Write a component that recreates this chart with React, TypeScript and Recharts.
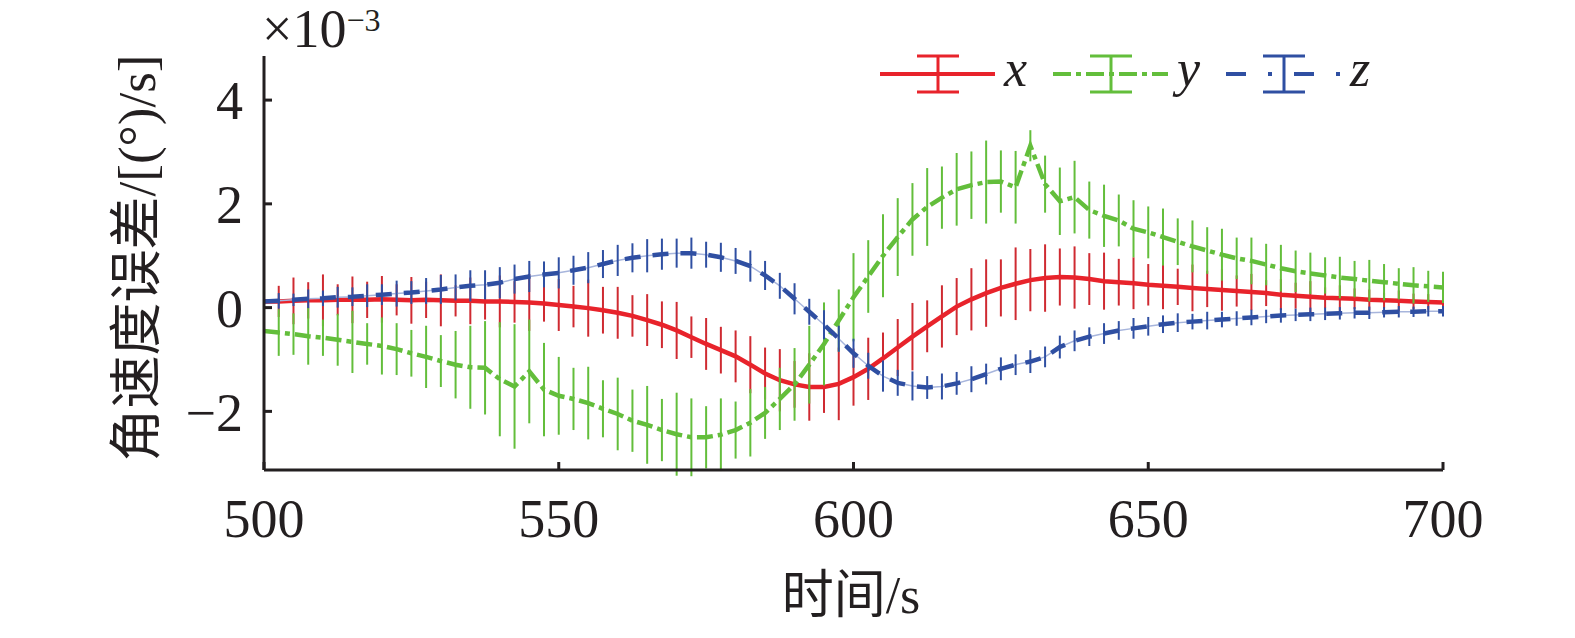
import React from 'react';
import { LineChart, Line, XAxis, YAxis, ErrorBar, Label } from 'recharts';

// sample times (s)
const TIMES = [
  500, 502.5, 505, 507.5, 510, 512.5, 515, 517.5, 520, 522.5,
  525, 527.5, 530, 532.5, 535, 537.5, 540, 542.5, 545, 547.5,
  550, 552.5, 555, 557.5, 560, 562.5, 565, 567.5, 570, 572.5,
  575, 577.5, 580, 582.5, 585, 587.5, 590, 592.5, 595, 597.5,
  600, 602.5, 605, 607.5, 610, 612.5, 615, 617.5, 620, 622.5,
  625, 627.5, 630, 632.5, 635, 637.5, 640, 642.5, 645, 647.5,
  650, 652.5, 655, 657.5, 660, 662.5, 665, 667.5, 670, 672.5,
  675, 677.5, 680, 682.5, 685, 687.5, 690, 692.5, 695, 697.5,
  700,
];

// x axis error (x1e-3 (°)/s)
const X_VAL = [
  0.12, 0.12, 0.13, 0.14, 0.14, 0.15, 0.15, 0.15, 0.16, 0.15,
  0.14, 0.15, 0.14, 0.13, 0.13, 0.12, 0.12, 0.11, 0.1, 0.08,
  0.05, 0.02, -0.01, -0.05, -0.1, -0.16, -0.24, -0.33, -0.44, -0.57,
  -0.7, -0.82, -0.94, -1.1, -1.27, -1.4, -1.48, -1.53, -1.53, -1.47,
  -1.34, -1.18, -0.98, -0.77, -0.56, -0.36, -0.17, 0.02, 0.16, 0.28,
  0.38, 0.46, 0.53, 0.57, 0.59, 0.58, 0.55, 0.51, 0.49, 0.47,
  0.44, 0.42, 0.4, 0.38, 0.36, 0.34, 0.32, 0.3, 0.28, 0.25,
  0.23, 0.21, 0.19, 0.18, 0.17, 0.15, 0.14, 0.13, 0.12, 0.11,
  0.1,
];
const X_ERR = [
  0.4, 0.3, 0.45, 0.35, 0.5, 0.3, 0.45, 0.35, 0.45,
  0.3, 0.45, 0.35, 0.5, 0.3, 0.45, 0.35, 0.5,
  0.4, 0.55, 0.35, 0.5, 0.4, 0.55, 0.45, 0.5,
  0.4, 0.5, 0.45, 0.55, 0.4, 0.5, 0.45, 0.5,
  0.55, 0.5, 0.6, 0.45, 0.65, 0.5, 0.7, 0.55,
  0.6, 0.5, 0.55, 0.65, 0.5, 0.6, 0.55, 0.6,
  0.65, 0.55, 0.7, 0.6, 0.65, 0.55, 0.6, 0.5,
  0.55, 0.45, 0.5, 0.4, 0.45, 0.35, 0.45, 0.35,
  0.4, 0.3, 0.35, 0.25, 0.3, 0.25, 0.3, 0.2,
  0.25, 0.2, 0.2, 0.15, 0.2, 0.15, 0.15, 0.1,
];

const Y_VAL = [
  -0.45, -0.48, -0.51, -0.55, -0.58, -0.62, -0.66, -0.7, -0.74, -0.8,
  -0.88, -0.95, -1.03, -1.1, -1.15, -1.16, -1.38, -1.52, -1.23, -1.58,
  -1.7, -1.76, -1.84, -1.95, -2.05, -2.18, -2.26, -2.36, -2.44, -2.5,
  -2.5, -2.45, -2.36, -2.22, -2.03, -1.76, -1.48, -1.1, -0.7, -0.25,
  0.2, 0.6, 1.0, 1.36, 1.7, 1.94, 2.12, 2.28, 2.36, 2.42,
  2.43, 2.32, 3.12, 2.38, 2.05, 2.13, 1.88, 1.77, 1.68, 1.52,
  1.45, 1.36, 1.27, 1.18, 1.1, 1.02, 0.95, 0.9, 0.83, 0.76,
  0.7, 0.66, 0.62, 0.58, 0.55, 0.52, 0.49, 0.46, 0.43, 0.41,
  0.39,
];
const Y_ERR = [
  0.35, 0.45, 0.4, 0.55, 0.35, 0.5, 0.6, 0.4, 0.55,
  0.5, 0.45, 0.6, 0.5, 0.65, 0.8, 0.9,
  1.1, 1.2, 1.0, 0.9, 0.75,
  0.6, 0.7, 0.55, 0.7, 0.6, 0.75, 0.6, 0.8,
  0.75, 0.6, 0.7, 0.55, 0.65, 0.5, 0.6, 0.7,
  0.75, 0.8, 0.6, 0.85, 0.7, 0.8, 0.75, 0.7,
  0.75, 0.6, 0.7, 0.65, 0.8, 0.6, 0.7, 0.3,
  0.55, 0.65, 0.7, 0.55, 0.6, 0.5, 0.55, 0.5,
  0.55, 0.45, 0.5, 0.45, 0.5, 0.4, 0.45, 0.4,
  0.45, 0.4, 0.4, 0.35, 0.4, 0.35, 0.4, 0.35,
  0.3, 0.35, 0.3, 0.3,
];

const Z_VAL = [
  0.12, 0.13, 0.15, 0.17, 0.18, 0.2, 0.21, 0.23, 0.25, 0.27,
  0.29, 0.32, 0.35, 0.39, 0.42, 0.44, 0.48, 0.55, 0.6, 0.64,
  0.67, 0.72, 0.77, 0.84, 0.91, 0.96, 1.0, 1.03, 1.05, 1.05,
  1.02, 0.97, 0.9, 0.8, 0.62, 0.42, 0.17, -0.08, -0.33, -0.6,
  -0.88, -1.12, -1.32, -1.45, -1.51, -1.54, -1.52, -1.46, -1.38, -1.28,
  -1.18, -1.1, -1.04, -0.95, -0.76, -0.64, -0.56, -0.5, -0.44, -0.4,
  -0.36, -0.32, -0.29, -0.27, -0.25, -0.23, -0.21, -0.19, -0.17, -0.15,
  -0.14, -0.13, -0.12, -0.11, -0.1, -0.1, -0.09, -0.08, -0.08, -0.07,
  -0.07,
];
const Z_ERR = [
  0.12, 0.15, 0.12, 0.18, 0.15, 0.2, 0.18, 0.22, 0.2, 0.25, 0.22, 0.25, 0.28, 0.25, 0.3, 0.28, 0.3,
  0.28, 0.3, 0.25, 0.3, 0.28, 0.3, 0.27, 0.3, 0.28, 0.32, 0.3, 0.28,
  0.3, 0.25, 0.28, 0.25, 0.3, 0.28, 0.25, 0.3, 0.25, 0.28, 0.25, 0.28,
  0.25, 0.3, 0.25, 0.28, 0.22, 0.25, 0.22, 0.25, 0.2, 0.22, 0.2, 0.22,
  0.2, 0.22, 0.2, 0.18, 0.2, 0.18, 0.2, 0.18, 0.17, 0.18, 0.15, 0.17,
  0.15, 0.14, 0.15, 0.13, 0.14, 0.12, 0.13, 0.12, 0.12, 0.11, 0.12, 0.1, 0.11, 0.1, 0.1, 0.1,
];

const X_TICKS = [500, 550, 600, 650, 700];
const Y_TICKS = [-2, 0, 2, 4];

const RED = '#e8232b';
const RED_BAR = '#cf2a31';
const GREEN = '#63be3b';
const BLUE = '#2f4fa2';
const BLUE_LIGHT = '#a7b5dc';
const INK = '#231f20';

const SERIF = 'Liberation Serif, Tinos, Times New Roman, serif';
const CJK = 'Liberation Serif, Noto Sans CJK SC, serif';

const W = 1575;
const H = 638;

const data = TIMES.map((t, i) => ({
  t,
  x: X_VAL[i],
  xe: X_ERR[i],
  y: Y_VAL[i],
  ye: Y_ERR[i],
  z: Z_VAL[i],
  ze: Z_ERR[i],
}));

const fmtY = (v: number) => (v < 0 ? '\u2212' + Math.abs(v) : String(v));

const tickStyle = { fontSize: 54, fontFamily: SERIF, fill: INK, style: { fontFamily: SERIF } };

function LegendKey({ x, color, dash, label }: { x: number; color: string; dash?: string; label: string }) {
  const cy = 74;
  return (
    <g>
      <line x1={x} x2={x + 115} y1={cy} y2={cy} stroke={color} strokeWidth={4} strokeDasharray={dash} />
      <line x1={x + 58} x2={x + 58} y1={56} y2={92} stroke={color} strokeWidth={3} />
      <line x1={x + 37} x2={x + 79} y1={56} y2={56} stroke={color} strokeWidth={3} />
      <line x1={x + 37} x2={x + 79} y1={92} y2={92} stroke={color} strokeWidth={3} />
      <text x={x + 124} y={86} fontSize={52} fontStyle="italic" style={{ fontFamily: SERIF }} fill={INK}>
        {label}
      </text>
    </g>
  );
}

export default function App() {
  return (
    <div style={{ position: 'absolute', left: 0, top: 0, width: W, height: H, background: '#fff', fontFamily: SERIF }}>
      <LineChart width={W} height={H} data={data} margin={{ top: 56, right: 132, bottom: 108, left: 204 }}>
        <XAxis
          dataKey="t"
          type="number"
          domain={[500, 700]}
          ticks={X_TICKS}
          allowDataOverflow
          height={60}
          axisLine={{ stroke: INK, strokeWidth: 3 }}
          tickLine={{ stroke: INK, strokeWidth: 3 }}
          tickSize={-8}
          tickMargin={37}
          tick={tickStyle}
        >
          <Label
            content={() => (
              <text x={851} y={613} textAnchor="middle" fontSize={52} style={{ fontFamily: CJK }} fill={INK}>
                时间/s
              </text>
            )}
          />
        </XAxis>
        <YAxis
          type="number"
          domain={[-3.13, 4.85]}
          ticks={Y_TICKS}
          allowDataOverflow
          width={60}
          axisLine={{ stroke: INK, strokeWidth: 3 }}
          tickLine={{ stroke: INK, strokeWidth: 3 }}
          tickSize={-8}
          tickMargin={29}
          tickFormatter={fmtY}
          tick={tickStyle}
        >
          <Label
            content={() => (
              <text
                x={137}
                y={258}
                textAnchor="middle"
                dominantBaseline="central"
                transform="rotate(-90 137 258)"
                fontSize={53}
                style={{ fontFamily: CJK }}
                fill={INK}
              >
                角速度误差/[(°)/s]
              </text>
            )}
          />
        </YAxis>

        <Line dataKey="x" type="linear" stroke={RED} strokeWidth={4.5} dot={false} isAnimationActive={false}>
          <ErrorBar dataKey="xe" direction="y" width={0} stroke={RED_BAR} strokeWidth={2} isAnimationActive={false} />
        </Line>
        <Line dataKey="y" type="linear" stroke={GREEN} strokeWidth={4.5} strokeDasharray="16 5 5 5" dot={false} isAnimationActive={false}>
          <ErrorBar dataKey="ye" direction="y" width={0} stroke={GREEN} strokeWidth={2} isAnimationActive={false} />
        </Line>
        <Line dataKey="z" type="linear" stroke={BLUE_LIGHT} strokeWidth={1.5} dot={false} isAnimationActive={false} />
        <Line dataKey="z" type="linear" stroke={BLUE} strokeWidth={4.5} strokeDasharray="16 12" dot={false} isAnimationActive={false}>
          <ErrorBar dataKey="ze" direction="y" width={0} stroke={BLUE} strokeWidth={2} isAnimationActive={false} />
        </Line>
      </LineChart>

      <svg width={W} height={H} style={{ position: 'absolute', left: 0, top: 0, pointerEvents: 'none' }}>
        <text x={262} y={47} fontSize={54} style={{ fontFamily: SERIF }} fill={INK}>
          ×10
          <tspan fontSize={32} dy={-16}>{'\u22123'}</tspan>
        </text>
        <LegendKey x={880} color={RED} label="x" />
        <LegendKey x={1053} color={GREEN} dash="18 5 5 5" label="y" />
        <LegendKey x={1226} color={BLUE} dash="20 22 4 22" label="z" />
      </svg>
    </div>
  );
}
